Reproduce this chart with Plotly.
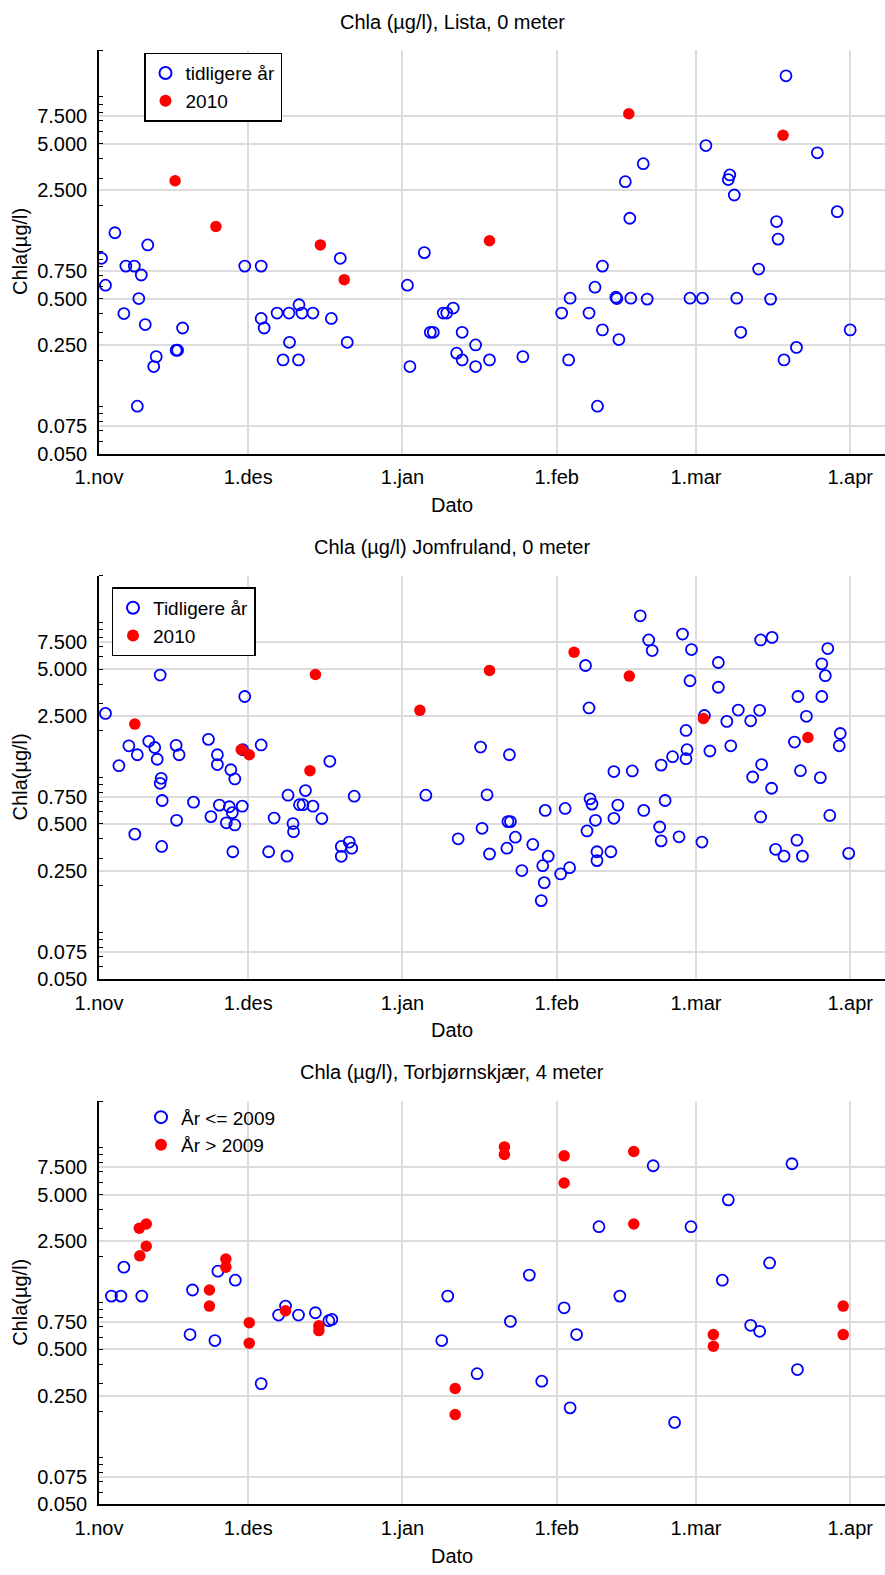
import math
import plotly.graph_objects as go

# x = days after 1 November, y = Chla (µg/l)

# --- Lista, 0 meter ---
lista_tidl_dag = [0.5, 1.3, 3.2, 5.0, 5.4, 7.1, 7.7, 8.0, 8.5, 9.3, 9.8, 11.0, 11.5, 15.5, 15.8, 16.8,
                  29.3, 32.6, 32.6, 33.2, 35.8, 37.0, 38.2, 38.3, 40.1, 40.2, 40.8, 43.0, 46.7, 48.5, 49.9,
                  62.0, 62.5, 65.4, 66.6, 67.2, 69.2, 69.9, 71.2, 71.9, 73.0, 73.0, 75.7, 75.7, 78.5, 85.2,
                  93.0, 94.4, 94.7, 98.5, 99.7, 100.2, 101.2, 101.2, 103.9, 104.1, 104.5, 105.8, 106.7,
                  106.9, 109.4, 110.2, 118.8, 121.3, 122.0, 126.5, 126.8, 127.7, 128.2, 129.0, 132.6,
                  135.0, 136.2, 136.5, 137.7, 138.1, 140.2, 144.4, 148.4, 151.0]
lista_tidl_chla = [0.91, 0.61, 1.33, 0.40, 0.81, 0.81, 0.101, 0.50, 0.71, 0.34, 1.11, 0.182, 0.211, 0.232, 0.232, 0.323,
                   0.81, 0.81, 0.372, 0.323, 0.403, 0.201, 0.403, 0.261, 0.201, 0.456, 0.403, 0.403, 0.372, 0.91, 0.261,
                   0.61, 0.182, 0.99, 0.303, 0.303, 0.403, 0.403, 0.434, 0.222, 0.303, 0.201, 0.251, 0.182, 0.201, 0.211,
                   0.403, 0.201, 0.503, 0.403, 0.592, 0.101, 0.81, 0.314, 0.51, 0.50, 0.272, 2.84, 1.65,
                   0.503, 3.71, 0.496, 0.503, 0.503, 4.86, 2.93, 3.14, 2.33, 0.503, 0.303, 0.775,
                   0.496, 1.57, 1.21, 0.201, 13.7, 0.242, 4.36, 1.82, 0.314]
lista_2010_dag = [15.3, 23.5, 44.5, 49.3, 78.5, 106.5, 137.5]
lista_2010_chla = [2.88, 1.46, 1.11, 0.662, 1.18, 7.79, 5.66]

# --- Jomfruland, 0 meter ---
jomf_tidl_dag = [1.3, 12.3, 29.3, 65.7, 6.0, 7.7, 10.0, 11.2, 11.7, 4.0, 15.5, 16.1, 12.5, 12.3, 12.7,
                 22.0, 23.8, 23.8, 26.5, 27.3, 28.9, 32.6, 46.4, 19.0, 15.6, 7.2, 22.5, 24.2, 26.2, 26.8,
                 25.6, 27.3, 28.8, 35.2, 38.0, 39.0, 39.1, 41.5, 40.3, 41.0, 43.0, 44.8, 51.3, 12.6, 26.9,
                 34.1, 37.8, 48.7, 48.7, 50.3, 50.8, 72.2, 77.0, 78.5, 82.0, 82.2, 82.7, 83.7, 85.0, 87.2,
                 88.9, 89.2, 89.5, 90.3, 92.8, 94.6, 98.1, 99.8, 100.1, 100.1, 102.9, 103.5, 112.7, 113.0,
                 116.6, 121.2, 133.0, 136.0, 137.7, 140.3, 141.4, 146.9, 150.7, 108.8, 110.5, 111.2, 117.3,
                 119.1, 133.0, 135.3, 146.5, 97.8, 118.8, 124.5, 124.5, 145.3, 146.0, 98.5, 140.5, 145.3,
                 142.2, 121.7, 128.5, 132.8, 126.2, 131.0, 118.0, 149.0, 148.8, 139.8, 127.0, 118.2, 118.0,
                 122.8, 133.2, 131.4, 135.2, 141.0, 145.0, 76.7, 82.5, 78.0, 89.7, 93.7, 98.7, 99.1, 104.3,
                 103.5, 107.2, 109.5, 113.0, 115.3, 113.8]
jomf_tidl_chla = [2.59, 4.58, 3.33, 0.767, 1.60, 1.40, 1.71, 1.56, 1.31, 1.19, 1.61, 1.40, 0.986, 0.916, 0.709,
                  1.76, 1.40, 1.21, 1.12, 0.977, 1.51, 1.62, 1.27, 0.692, 0.528, 0.430, 0.558, 0.662, 0.646, 0.592,
                  0.509, 0.493, 0.652, 0.546, 0.767, 0.503, 0.446, 0.822, 0.666, 0.666, 0.652, 0.542, 0.756, 0.358, 0.331,
                  0.331, 0.310, 0.358, 0.309, 0.382, 0.349, 0.401, 0.469, 0.320, 0.349, 0.518, 0.518, 0.411, 0.250, 0.369,
                  0.160, 0.269, 0.209, 0.310, 0.238, 0.261, 0.451, 0.528, 0.331, 0.290, 0.331, 0.544, 0.478, 0.389,
                  0.413, 0.382, 0.555, 0.343, 0.310, 0.393, 0.310, 0.568, 0.323, 11.05, 7.72, 6.59, 8.43,
                  6.69, 7.72, 8.02, 6.79, 5.28, 4.21, 5.52, 3.82, 5.41, 4.54, 2.81, 3.33, 3.33,
                  2.48, 2.51, 2.72, 2.71, 2.30, 2.32, 2.01, 1.92, 1.60, 1.69, 1.60, 1.51, 1.32,
                  1.48, 1.21, 1.006, 0.851, 1.105, 0.996, 1.57, 1.40, 0.772, 0.612, 0.630, 0.727, 0.672, 0.662,
                  1.09, 1.10, 0.612, 1.20, 1.36, 0.709]
jomf_2010_dag = [7.2, 43.5, 64.5, 28.6, 30.2, 42.4, 78.5, 95.5, 106.6, 121.5, 142.5]
jomf_2010_chla = [2.21, 4.62, 2.71, 1.51, 1.40, 1.105, 4.91, 6.43, 4.51, 2.40, 1.81]

# --- Torbjørnskjær, 4 meter ---
torb_t2009_dag = [2.5, 4.4, 5.0, 8.6, 18.3, 18.8, 23.3, 23.9, 27.4, 32.6, 36.1, 37.5, 40.1, 43.5, 46.2,
                  46.8, 68.9, 70.1, 76.0, 82.7, 86.5, 89.0, 93.5, 94.7, 96.0, 100.5, 104.7, 111.4, 115.7,
                  119.0, 125.3, 126.5, 131.0, 132.8, 134.8, 139.3, 140.4]
torb_t2009_chla = [1.105, 1.105, 1.70, 1.105, 0.624, 1.21, 0.571, 1.60, 1.40, 0.301, 0.834, 0.953, 0.834, 0.863, 0.767,
                   0.782, 0.571, 1.105, 0.349, 0.759, 1.51, 0.312, 0.929, 0.210, 0.624, 3.10, 1.105, 7.67, 0.169,
                   3.10, 1.40, 4.62, 0.716, 0.655, 1.81, 7.90, 0.371]
torb_e2009_dag = [8.1, 9.5, 9.5, 8.2, 22.2, 22.2, 25.5, 25.5, 30.2, 30.2, 37.5, 44.2, 44.2, 71.6, 71.6,
                  81.5, 81.5, 93.5, 93.5, 107.5, 107.5, 123.5, 123.5, 149.6, 149.6]
torb_e2009_chla = [3.03, 3.23, 2.32, 2.01, 1.21, 0.953, 1.92, 1.70, 0.745, 0.549, 0.889, 0.712, 0.662, 0.280, 0.190,
                   10.15, 9.06, 8.89, 5.94, 9.48, 3.23, 0.624, 0.525, 0.953, 0.624]

# axis labelling
maned_dag = [0, 30, 61, 92, 120, 151]
maned_tekst = ["1.nov", "1.des", "1.jan", "1.feb", "1.mar", "1.apr"]
y_verdier = [0.05, 0.075, 0.25, 0.5, 0.75, 2.5, 5, 7.5]
y_tekst = ["0.050", "0.075", "0.250", "0.500", "0.750", "2.500", "5.000", "7.500"]
y_minor = [0.06, 0.07, 0.08, 0.09, 0.1, 0.2, 0.3, 0.4, 0.5, 0.6, 0.7, 0.8, 0.9,
           1, 2, 3, 4, 5, 6, 7, 8, 9, 10, 20]

W, H, L = 885, 1575, 99
FONT = "Liberation Sans, Arial, sans-serif"
GRID = "#dcdcdc"


def px_to_paper_y(py):
    return 1 - py / H


def px_to_paper_x(px):
    return (px - L) / (W - L)


paneler = [
    dict(tittel="Chla (µg/l), Lista, 0 meter",
         serier=[("tidligere år", lista_tidl_dag, lista_tidl_chla),
                 ("2010", lista_2010_dag, lista_2010_chla)],
         topp=50.7, bunn=456.7,
         legende=dict(x=px_to_paper_x(144), y=px_to_paper_y(53),
                      bordercolor="black", borderwidth=1.5, bgcolor="white")),
    dict(tittel="Chla (µg/l) Jomfruland, 0 meter",
         serier=[("Tidligere år", jomf_tidl_dag, jomf_tidl_chla),
                 ("2010", jomf_2010_dag, jomf_2010_chla)],
         topp=580.0, bunn=985.7,
         legende=dict(x=px_to_paper_x(111.5), y=px_to_paper_y(591.5),
                      bordercolor="black", borderwidth=1.5, bgcolor="white")),
    dict(tittel="Chla (µg/l), Torbjørnskjær, 4 meter",
         serier=[("År &lt;= 2009", torb_t2009_dag, torb_t2009_chla),
                 ("År &gt; 2009", torb_e2009_dag, torb_e2009_chla)],
         topp=1109.0, bunn=1515.0,
         legende=dict(x=px_to_paper_x(141), y=px_to_paper_y(1106),
                      borderwidth=0, bgcolor="rgba(0,0,0,0)")),
]

fig = go.Figure()
layout = dict(
    width=W, height=H,
    margin=dict(l=L, r=0, t=0, b=0),
    plot_bgcolor="white", paper_bgcolor="white",
    font=dict(family=FONT, size=20, color="black"),
    showlegend=True,
    annotations=[],
)

for i, p in enumerate(paneler, start=1):
    xs = "" if i == 1 else str(i)
    xt = str(i + 3)
    leg = "legend" if i == 1 else f"legend{i}"

    for k, (navn, dag, chla) in enumerate(p["serier"]):
        if k == 0:
            marker = dict(symbol="circle-open", size=11, color="#0000ff", line=dict(width=1.8, color="#0000ff"))
        else:
            marker = dict(symbol="circle", size=11.5, color="#ff0000", line=dict(width=0))
        fig.add_trace(go.Scatter(x=dag, y=chla, mode="markers", name=navn, marker=marker,
                                 xaxis=f"x{xs}", yaxis=f"y{xs}", legend=leg))

    domain = [px_to_paper_y(p["bunn"]), px_to_paper_y(p["topp"])]
    layout[f"xaxis{xs}"] = dict(
        domain=[0, 1], anchor=f"y{xs}", range=[0, 158],
        tickmode="array", tickvals=maned_dag, ticktext=maned_tekst, ticks="",
        showgrid=True, gridcolor=GRID, gridwidth=1.5, zeroline=False,
        showline=True, linecolor="black", linewidth=1.5,
        tickfont=dict(size=20), ticklabelstandoff=5,
    )
    layout[f"xaxis{xt}"] = dict(
        overlaying=f"x{xs}", anchor=f"y{xs}", side="top", range=[0, 158],
        tick0=0, dtick=20, ticks="inside", ticklen=5, tickwidth=1, tickcolor="black",
        minor=dict(tick0=0, dtick=4, ticks="inside", ticklen=3, tickwidth=1, tickcolor="black", showgrid=False),
        showticklabels=False, showgrid=False, zeroline=False,
        showline=True, linecolor="black", linewidth=1.5,
    )
    layout[f"yaxis{xs}"] = dict(
        domain=domain, anchor=f"x{xs}", type="log",
        range=[math.log10(0.05), math.log10(20)],
        tickmode="array", tickvals=y_verdier, ticktext=y_tekst, ticks="",
        showgrid=True, gridcolor=GRID, gridwidth=1.5, zeroline=False,
        showline=True, linecolor="black", linewidth=1.5,
        minor=dict(tickmode="array", tickvals=y_minor, ticks="inside", ticklen=4,
                   tickwidth=1, tickcolor="black", showgrid=False),
        tickfont=dict(size=20), ticklabelstandoff=6,
    )
    layout[leg] = dict(
        xanchor="left", yanchor="top", font=dict(size=19, family=FONT),
        itemsizing="constant", **p["legende"],
    )

    midt = (p["topp"] + p["bunn"]) / 2
    layout["annotations"] += [
        dict(text=p["tittel"], xref="paper", yref="paper", x=px_to_paper_x(452),
             y=px_to_paper_y(p["topp"] - 29), xanchor="center", yanchor="middle",
             showarrow=False, font=dict(size=20)),
        dict(text="Dato", xref="paper", yref="paper", x=px_to_paper_x(452),
             y=px_to_paper_y(p["bunn"] + 52), xanchor="center", yanchor="middle",
             showarrow=False, font=dict(size=20)),
        dict(text="Chla(µg/l)", xref="paper", yref="paper", x=px_to_paper_x(20),
             y=px_to_paper_y(midt), xanchor="center", yanchor="middle", textangle=-90,
             showarrow=False, font=dict(size=20)),
    ]

fig.update_layout(**layout)
fig.write_html("out.html")
